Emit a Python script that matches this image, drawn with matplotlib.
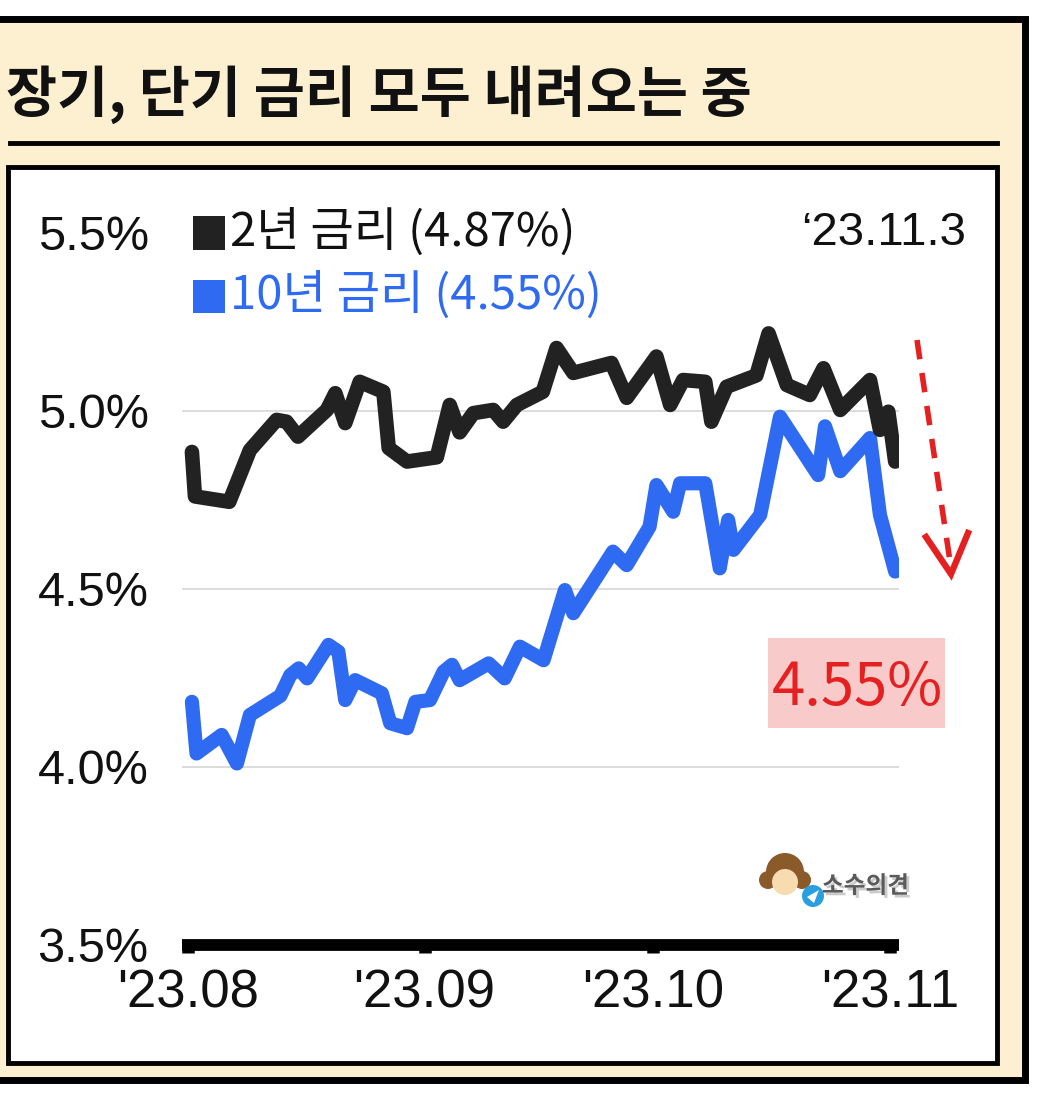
import matplotlib
matplotlib.use('Agg')
import matplotlib.pyplot as plt
from matplotlib.patches import Rectangle, Ellipse, Polygon
from matplotlib.lines import Line2D
import matplotlib.patheffects as pe

plt.rcParams['font.family'] = ['Noto Sans CJK KR', 'DejaVu Sans']

# ---------------- data ----------------
title = '장기, 단기 금리 모두 내려오는 중'
legend_labels = ['2년 금리 (4.87%)', '10년 금리 (4.55%)']
date_note = '‘23.11.3'
callout = '4.55%'
watermark = '소수의견'

# x = days since 2023-08-01
days_2y = [0.5, 0.9, 5.4, 8.1, 11.6, 12.9, 14.4, 18.2, 19.3, 20.6, 22.5, 25.6, 26.3,
           28.7, 32.6, 34.3, 35.6, 37.4, 40.0, 41.3, 43.1, 46.5, 48.3, 50.5, 55.5,
           57.5, 61.4, 63.2, 64.9, 67.8, 68.6, 70.6, 74.5, 76.1, 78.5, 81.5, 83.3,
           85.5, 89.4, 90.7, 91.8, 92.7]
rate_2y = [4.885, 4.76, 4.745, 4.89, 4.975, 4.97, 4.928, 5.003, 5.05, 4.966, 5.082,
           5.054, 4.896, 4.858, 4.87, 5.017, 4.94, 4.994, 5.003, 4.97, 5.017, 5.054,
           5.177, 5.107, 5.135, 5.037, 5.153, 5.017, 5.087, 5.082, 4.97, 5.068, 5.10,
           5.218, 5.073, 5.045, 5.12, 5.003, 5.087, 4.947, 4.998, 4.858]

days_10y = [0.5, 1.1, 4.4, 6.4, 8.1, 12.1, 13.4, 14.5, 15.6, 18.4, 19.7, 20.6, 21.9,
            25.4, 26.5, 28.7, 29.8, 31.7, 33.5, 34.6, 35.6, 39.4, 41.5, 43.5, 46.6,
            49.4, 50.5, 53.6, 55.7, 57.5, 60.5, 61.4, 63.6, 64.5, 67.8, 69.7, 70.8,
            71.5, 75.0, 77.6, 82.6, 83.5, 85.5, 89.4, 90.7, 92.7]
rate_10y = [4.183, 4.038, 4.09, 4.01, 4.146, 4.20, 4.258, 4.277, 4.249, 4.343, 4.324,
            4.188, 4.244, 4.207, 4.123, 4.109, 4.183, 4.188, 4.268, 4.287, 4.244,
            4.291, 4.249, 4.338, 4.30, 4.497, 4.432, 4.535, 4.605, 4.567, 4.675,
            4.792, 4.717, 4.797, 4.797, 4.558, 4.694, 4.61, 4.708, 4.984, 4.82,
            4.957, 4.831, 4.924, 4.708, 4.549]

xtick_days = [0, 31, 61, 92]
xtick_labels = ["'23.08", "'23.09", "'23.10", "'23.11"]
ytick_vals = [3.5, 4.0, 4.5, 5.0, 5.5]
ytick_labels = ['3.5%', '4.0%', '4.5%', '5.0%', '5.5%']
grid_vals = [4.0, 4.5, 5.0]

# ---------------- layout helpers ----------------
W, H = 1048, 1093
fig = plt.figure(figsize=(W / 100, H / 100), dpi=100, facecolor='white')


def fx(x):
    return x / W


def fy(y):
    return 1 - y / H


BEIGE = '#fdf0d0'
BLACK_LINE = '#222222'
BLUE = '#2f6af2'
RED = '#e52020'

# outer beige frame
fig.add_artist(Rectangle((fx(-10), fy(1080)), (1025 + 10) / W, (1080 - 18.5) / H,
                         transform=fig.transFigure, facecolor=BEIGE,
                         edgecolor='black', lw=5, zorder=-10))
# title
fig.text(fx(6), fy(95), title, fontsize=40, fontweight='bold', color='#111111',
         ha='left', va='center', zorder=5)
# title rule
fig.add_artist(Line2D([fx(10), fx(997)], [fy(143), fy(143)], transform=fig.transFigure,
                      color='black', lw=3.5, zorder=-9))
# inner white panel
fig.add_artist(Rectangle((fx(8), fy(1063)), (997 - 8) / W, (1063 - 167) / H,
                         transform=fig.transFigure, facecolor='white',
                         edgecolor='black', lw=3.5, zorder=-9))

# ---------------- axes ----------------
ax = fig.add_axes([fx(182), fy(945), (899 - 182) / W, (945 - 233) / H])
ax.set_facecolor('none')
ax.set_xlim(-0.8, 93.2)
ax.set_ylim(3.5, 5.5)

for g in grid_vals:
    ax.axhline(g, color='#d6d6d6', lw=1.2, zorder=1)

ax.plot(days_10y, rate_10y, color=BLUE, lw=10.2, solid_joinstyle='round',
        solid_capstyle='round', zorder=3)
ax.plot(days_2y, rate_2y, color=BLACK_LINE, lw=10.5, solid_joinstyle='round',
        solid_capstyle='round', zorder=4)

for s in ['left', 'right', 'top']:
    ax.spines[s].set_visible(False)
ax.spines['bottom'].set_linewidth(8.5)
ax.spines['bottom'].set_color('black')
ax.spines['bottom'].set_capstyle('butt')
ax.spines['bottom'].set_position(('data', 3.5))

ax.set_yticks(ytick_vals)
ax.set_yticklabels(ytick_labels, fontsize=35, family=['Liberation Sans', 'DejaVu Sans'],
                   color='#111111')
ax.tick_params(axis='y', length=0, pad=24)
ax.set_xticks(xtick_days)
ax.set_xticklabels(xtick_labels, fontsize=38, family=['Liberation Sans', 'DejaVu Sans'],
                   color='#111111')
ax.tick_params(axis='x', length=6, width=9, direction='out', pad=11, color='black')

# ---------------- legend ----------------
fig.add_artist(Rectangle((fx(193), fy(250)), 32 / W, 34 / H, transform=fig.transFigure,
                         facecolor=BLACK_LINE, edgecolor='none', zorder=6))
fig.add_artist(Rectangle((fx(193), fy(313)), 32 / W, 33 / H, transform=fig.transFigure,
                         facecolor=BLUE, edgecolor='none', zorder=6))
fig.text(fx(230), fy(233), legend_labels[0], fontsize=34, fontweight='medium',
         color='#111111', ha='left', va='center', zorder=6)
fig.text(fx(230), fy(296), legend_labels[1], fontsize=34, fontweight='medium',
         color=BLUE, ha='left', va='center', zorder=6)
fig.text(fx(966), fy(233), date_note, fontsize=34, color='#111111',
         family=['Liberation Sans', 'DejaVu Sans'], ha='right', va='center', zorder=6)

# ---------------- red arrow ----------------
fig.add_artist(Line2D([fx(917), fx(951)], [fy(340), fy(568)], transform=fig.transFigure,
                      color=RED, lw=4.0, dashes=(3.5, 2.5), zorder=7))
fig.add_artist(Line2D([fx(926), fx(951), fx(968)], [fy(537), fy(574), fy(533)],
                      transform=fig.transFigure, color=RED, lw=4.6,
                      solid_joinstyle='miter', zorder=7))

# ---------------- callout ----------------
fig.add_artist(Rectangle((fx(768), fy(728)), (945 - 768) / W, (728 - 638) / H,
                         transform=fig.transFigure, facecolor='#f9caca',
                         edgecolor='none', zorder=6))
fig.text(fx(857), fy(688), callout, fontsize=43, fontweight='medium', color=RED,
         ha='center', va='center', zorder=7)

# ---------------- watermark ----------------
def circ(x, y, r, color, z):
    fig.add_artist(Ellipse((fx(x), fy(y)), 2 * r / W, 2 * r / H, transform=fig.transFigure,
                           facecolor=color, edgecolor='none', zorder=z))

circ(768, 880, 9, '#8a5a2b', 6)
circ(802, 880, 9, '#8a5a2b', 6)
circ(785, 872, 19, '#8a5a2b', 6)
circ(785, 882, 13, '#f6dcb0', 7)
circ(813, 896, 11, '#2a9fe0', 8)
fig.add_artist(Polygon([(fx(807), fy(897)), (fx(819), fy(890)), (fx(814), fy(903))],
                       closed=True, transform=fig.transFigure, facecolor='white',
                       edgecolor='none', zorder=9))
fig.text(fx(822), fy(886), watermark, fontsize=17, fontweight='bold', color='#5a5a5a',
         ha='left', va='center', zorder=8,
         path_effects=[pe.withSimplePatchShadow(offset=(2, -2), shadow_rgbFace='#999999',
                                                alpha=0.5)])

fig.savefig('out.png', dpi=100, facecolor='white')
